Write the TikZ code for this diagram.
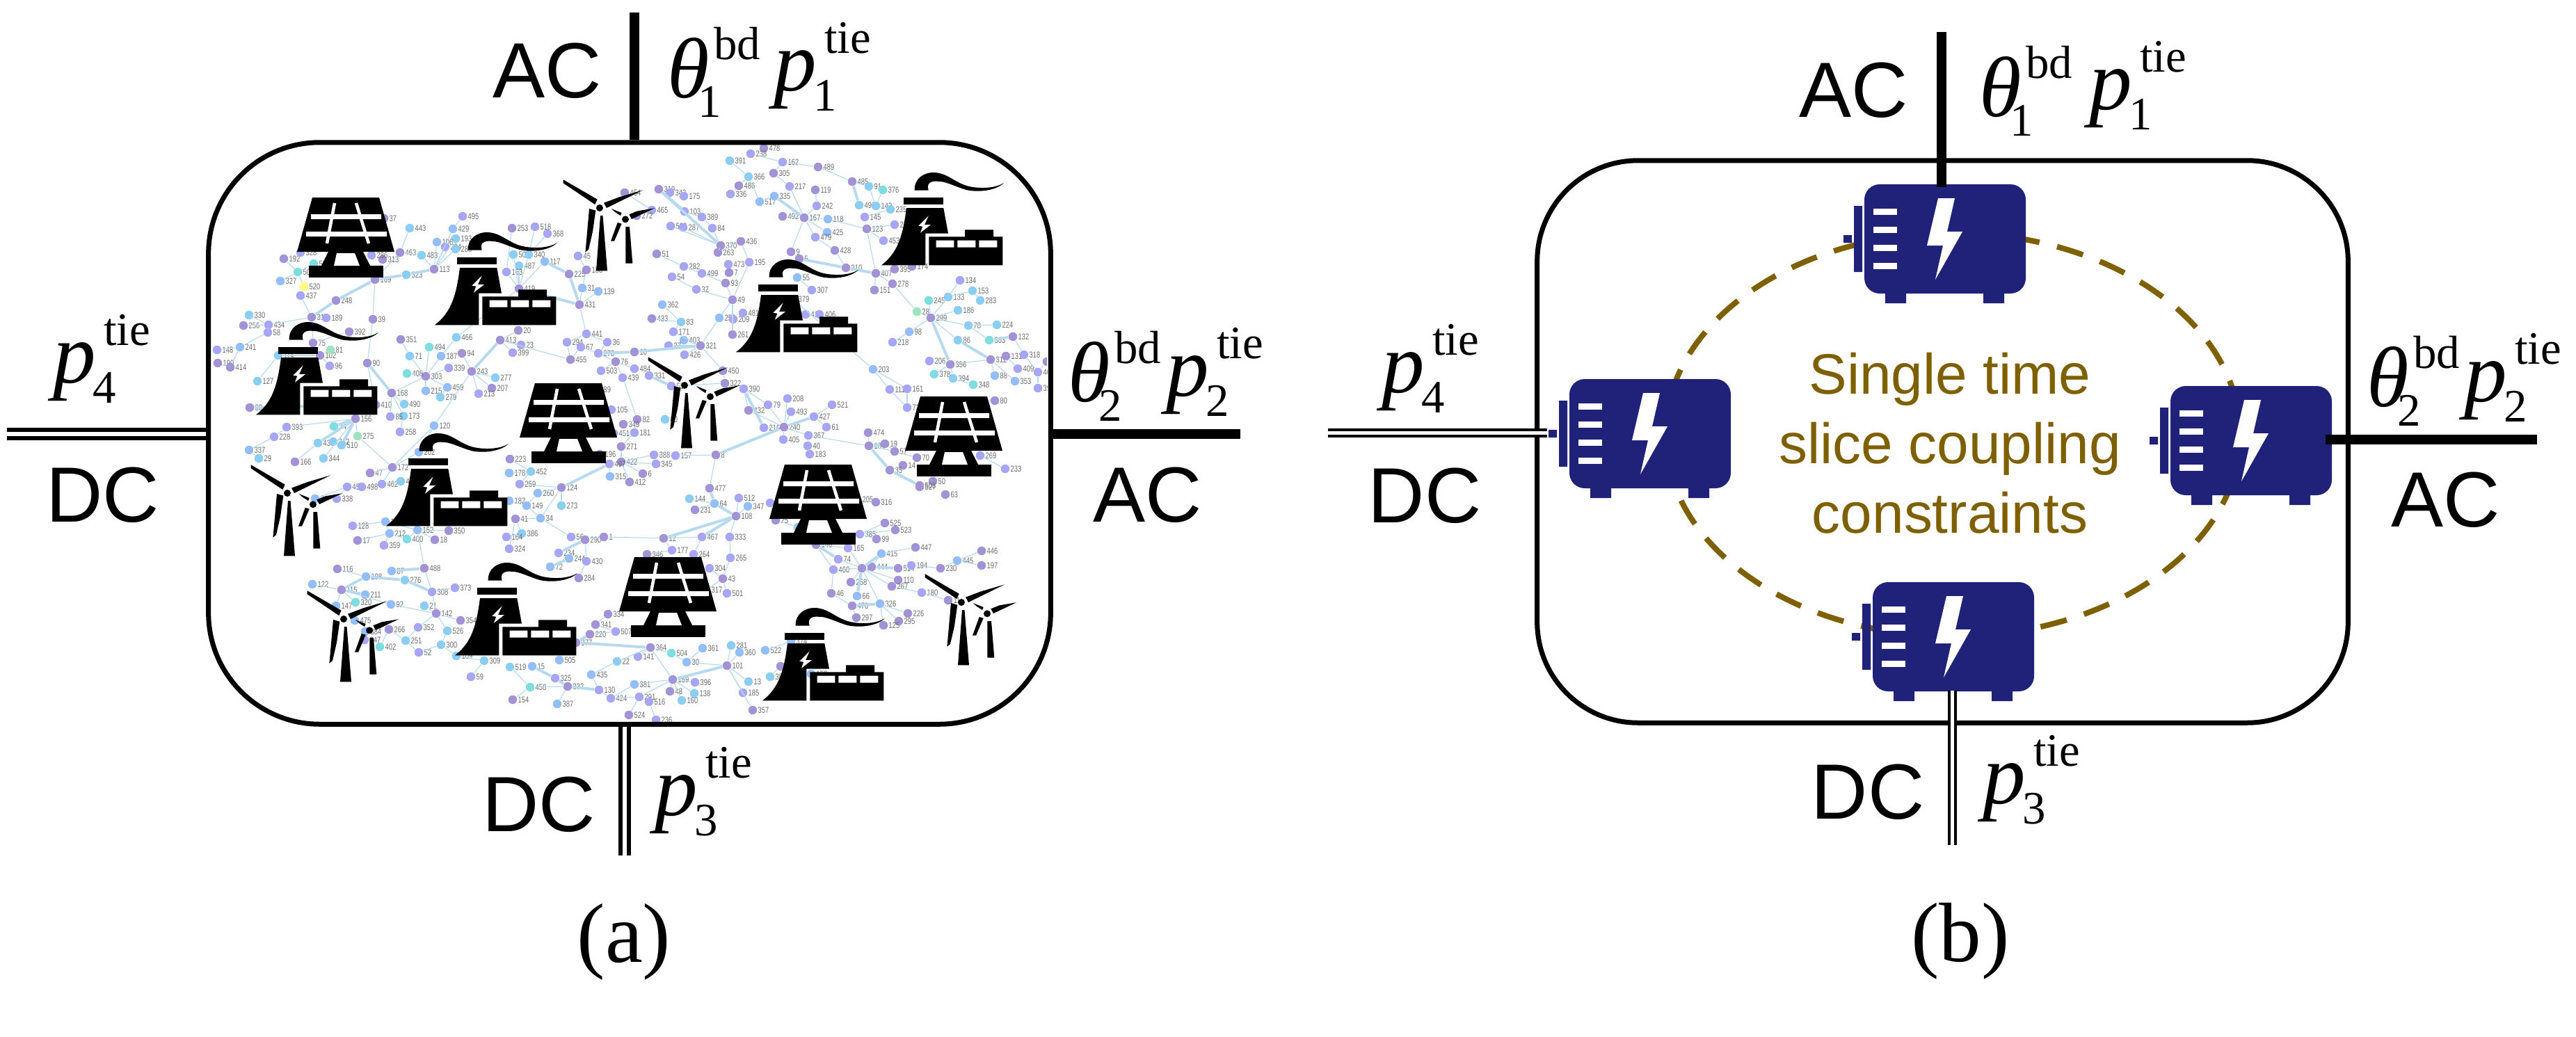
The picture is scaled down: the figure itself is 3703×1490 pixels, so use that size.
\documentclass[tikz,border=0pt]{standalone}
\usepackage{fontspec}
\setmainfont{Liberation Serif}
\setsansfont{Liberation Sans}
\newfontfamily\numfont[FakeStretch=.76]{Liberation Sans}
\usepackage{tikz}
\definecolor{dotP}{HTML}{A193D6}
\definecolor{dotL}{HTML}{A6A6F5}
\definecolor{dotB}{HTML}{94BEFA}
\definecolor{dotS}{HTML}{8CCDF2}
\definecolor{dotC}{HTML}{7FDDE0}
\definecolor{dotM}{HTML}{9DE3BE}
\definecolor{dotY}{HTML}{FFFF80}
\definecolor{linkblue}{HTML}{B7DAEE}
\definecolor{motorblue}{HTML}{1F2278}
\definecolor{coupling}{HTML}{7F6000}
\newcommand{\supfont}{\fontsize{19}{20}\selectfont}
\newcommand{\pTie}[1]{\kern.03cm\textit{p}\rlap{\kern-.05cm\raisebox{-.29cm}{\supfont #1}}\kern.11cm\raisebox{.53cm}{\supfont tie}}
\newcommand{\thetaBd}[1]{\textit{θ}\rlap{\kern-.17cm\raisebox{-.28cm}{\supfont #1}}\kern.06cm\raisebox{.54cm}{\supfont bd}}
\tikzset{
  dot/.style={circle,inner sep=0pt,minimum size=.125cm},
  numtxt/.style={inner sep=0pt,text=black!58,font=\numfont\fontsize{3.5}{4}\selectfont},
  netlink/.style={draw=linkblue,line width=.012cm},
  netthick/.style={draw=linkblue,line width=.04cm},
  region/.style={draw,line width=.07cm},
  acline/.style={draw,line width=.14cm},
  dclineA/.style={line width=.06cm,double,double distance=.055cm},
  dclineB/.style={line width=.045cm,double,double distance=.045cm},
  gridtxt/.style={inner sep=0pt,anchor=base,font=\sffamily\fontsize{32}{33}\selectfont},
  symb/.style={inner sep=0pt,anchor=base west,font=\fontsize{35}{36}\selectfont},
  captxt/.style={inner sep=0pt,anchor=base,font=\fontsize{34.5}{36}\selectfont},
  solar/.pic={
    \fill (-48,0) -- (48,0) -- (70,78) -- (-70,78) -- cycle;
    \fill (-25,78) -- (25,78) -- (35,98) -- (-35,98) -- cycle;
    \fill (-53,98) rectangle (54,115);
    \fill[white] (-13,80) -- (13,80) -- (20,98) -- (-17,98) -- cycle;
    \fill[white] (-50,24) rectangle (51,31) (-57,49) rectangle (59,56);
    \draw[white,line width=.045cm] (-16,8) -- (-27,66) (15,8) -- (33,66);
  },
  factory/.pic={
    \fill (47.7,25.7) .. controls (47,8) and (62,0) .. (74.3,0) .. controls (95,0) and (105,15) .. (126,20) .. controls (145,24) and (165,22) .. (176,15) .. controls (165,26) and (140,29) .. (122,25) .. controls (105,20) and (92,12) .. (79.3,12.7) .. controls (72,12) and (64,15) .. (67.7,25.7) -- cycle;
    \fill (32,35.7) rectangle (89.3,46.3);
    \fill (36,51) -- (89.3,51) -- (96,87.7) -- (63.3,87.7) -- (63.3,133.3) -- (0,133.3) .. controls (24,115) and (31,90) .. cycle;
    \fill (68.3,92.3) -- (120,92.3) -- (120,82.3) -- (161,82.3) -- (161,92.3) -- (174.3,92.3) -- (174.3,133.3) -- (68.3,133.3) -- cycle;
    \fill[white] (78.7,97.7) rectangle (104.3,107.7) (109.3,97.7) rectangle (135.3,107.7) (140.3,97.7) rectangle (166.3,107.7);
    \fill[white] (67.7,62.3) -- (62,75) -- (71,75) -- (56,86.7) -- (59.3,77.7) -- (53.3,76.7) -- cycle;
  },
  turbine/.pic={
    \fill (0,0) circle (5) (37,16.3) circle (5);
    \fill (-52.3,-40.7) -- (-3.3,-12.3) -- (-6.7,-5) -- (-52.3,-35.7) -- cycle;
    \fill (62.3,-25.7) -- (10,0) -- (6,-7.3) -- (28.3,-15.7) -- cycle;
    \fill (-20.7,63.7) -- (-20,57.7) -- (-15,1) -- (-5.7,3.7) -- (-10,34) -- (-16,60) -- cycle;
    \fill (1,11) -- (4.5,11) -- (11,90.3) -- (-5,90.3) -- cycle;
    \fill (16.7,1) -- (31.7,7) -- (30,11) -- (22.3,6) -- cycle;
    \fill (79,.3) -- (46,16) -- (42.3,9.3) -- (55,4.3) -- cycle;
    \fill (16,47.7) -- (21,47.7) -- (31.7,22.7) -- (25.7,21) -- cycle;
    \fill (37.3,27) -- (43,27) -- (47.3,79.7) -- (37.3,79.7) -- cycle;
  },
  motor/.pic={
    \fill[motorblue,rounded corners=.22cm] (0,0) rectangle (232,157);
    \fill[motorblue] (30,155) rectangle (60,171) (171,155) rectangle (201,171);
    \fill[motorblue] (-15,31) rectangle (-3,126) (-30,73) rectangle (-18,84);
    \foreach \s in {35,61,87,113} \fill[white] (13,\s) rectangle (47,\s+9);
    \fill[white] (106,20) -- (130,20) -- (119,68) -- (141,68) -- (102,137) -- (113,88) -- (90,88) -- cycle;
  }
}
\begin{document}
\begin{tikzpicture}[x=.01cm,y=-.01cm]
   \useasboundingbox (0,0) rectangle (3703,1490);
   % panel (a)
   \begin{scope}
   \clip (290,205) rectangle (1505,1040);
   \foreach \x/\y/\lab/\col in {
     665/311/495/L,651/329/429/B,655/343/193/S,628/348/106/B,640/355/204/L,655/358/288/S,589/328/443/S,575/363/463/P,606/367/483/S,624/387/113/P,
     584/395/323/S,539/402/169/P,550/373/313/P,534/367/286/L,408/372/192/P,428/391/500/C,451/379/509/C,403/404/327/B,437/412/520/Y,432/425/437/L,
     483/432/248/P,448/456/310/P,469/457/189/L,536/459/39/P,358/453/330/S,350/468/256/P,386/467/434/L,385/478/58/L,312/503/148/L,345/499/241/B,
     313/522/190/P,331/528/414/P,502/477/392/P,576/488/351/P,589/512/71/S,617/499/494/C,656/485/466/S,634/512/187/B,664/508/94/P,645/529/339/L,
     678/534/243/P,612/541/303/P,585/537/408/C,712/543/277/S,707/558/207/P,612/562/215/B,643/557/459/B,633/571/279/S,688/566/213/L,719/489/413/P,
     745/475/20/P,749/496/23/L,737/507/399/L,581/581/490/S,563/565/168/P,580/598/173/S,561/599/85/L,575/621/258/L,540/582/410/P,511/602/156/P,
     528/522/90/P,412/614/393/L,394/628/228/L,480/613/24/C,514/627/275/M,358/647/337/B,372/659/29/S,457/637/438/S,479/635/342/S,491/640/510/S,
     465/659/344/S,424/664/166/P,624/612/120/B,602/650/202/B,564/672/172/P,532/680/47/P,359/586/68/P,370/548/127/S,474/526/96/L,460/511/102/P,
     475/503/81/M,450/493/75/P,400/511/114/S,552/314/37/P,529/317/285/P,538/347/314/L,432/363/328/L,
     736/328/253/P,769/326/518/L,787/336/368/L,738/366/506/S,760/366/340/S,746/382/487/S,783/376/117/B,728/391/163/L,746/415/419/P,833/438/431/P,
     818/394/225/P,843/388/188/P,831/368/45/L,837/414/31/B,860/419/139/B,
     952/438/362/B,937/458/433/P,979/463/83/S,968/477/171/L,983/489/403/B,1007/497/321/P,961/497/27/L,984/510/426/L,843/480/441/L,873/492/36/L,
     815/492/294/L,835/499/67/L,860/508/270/L,912/506/10/P,820/517/455/P,885/520/76/P,864/533/503/L,912/530/484/L,895/543/439/L,933/540/331/L,
     1039/533/450/P,1042/551/322/P,965/555/53/L,944/365/51/P,983/383/282/L,1009/393/499/L,966/398/54/L,1001/416/32/L,1043/407/93/P,1053/431/49/P,
     1034/457/255/B,1054/459/209/L,1053/481/261/P,1047/380/473/L,1032/363/263/P,1036/353/370/P,1048/392/7/P,937/302/465/L,915/310/272/P,898/277/454/P,
     947/272/319/P,963/277/343/L,983/282/175/L,984/304/103/L,1009/312/389/L,964/325/502/L,982/327/287/L,1024/328/84/L,1049/231/391/S,1062/267/486/P,
     1050/279/336/L,860/560/89/L,879/589/105/L,916/603/82/P,896/610/349/P,912/622/181/L,882/623/451/L,893/642/271/P,940/654/388/L,971/655/157/L,
     943/667/345/L,893/664/422/P,876/667/497/L,877/685/315/B,924/681/6/P,905/693/412/P,862/653/196/P,1029/654/8/P,733/660/223/P,732/680/178/B,
     763/678/452/S,747/696/259/L,956/603/60/S,854/604/250/B,
     499/700/457/L,520/700/498/L,549/696/462/L,576/692/476/S,484/717/338/L,453/717/3/B,507/756/128/L,514/777/17/P,560/767/212/B,552/784/359/L,
     585/775/400/C,600/762/152/B,625/776/18/P,645/763/350/P,554/750/16/B,773/709/260/B,807/701/124/P,732/720/182/B,757/727/149/B,807/727/273/S,
     777/745/34/B,741/746/41/P,750/767/386/S,728/772/164/L,732/789/324/L,821/772/56/L,841/776/290/P,868/772/1/P,954/774/12/P,1009/772/467/L,
     1049/772/333/L,966/791/177/L,997/797/264/L,1050/802/265/L,930/797/346/P,803/795/234/L,818/803/244/B,843/807/430/L,791/815/72/B,832/831/284/P,
     1020/817/304/L,1039/832/43/P,1045/853/501/L,1015/848/317/L,1020/702/477/P,991/717/144/S,1027/724/64/B,999/733/231/P,1062/716/512/L,1075/728/347/B,
     1058/742/108/P,485/818/116/P,526/829/198/B,563/821/87/B,610/817/488/P,582/834/276/S,449/840/122/B,491/848/115/P,525/855/211/B,621/851/308/L,
     654/845/373/L,483/871/147/B,511/866/320/C,562/869/92/B,610/871/21/S,627/882/142/P,662/892/354/P,510/892/475/B,525/908/384/B,559/905/266/P,
     601/902/352/L,643/907/526/S,524/920/247/L,546/930/402/C,583/921/251/S,602/938/52/L,634/927/300/S,656/943/109/S,696/950/309/S,733/959/519/S,
     765/958/15/B,804/949/505/B,677/973/59/L,798/975/325/L,816/987/332/P,762/988/458/C,737/1006/154/P,801/1012/387/B,861/992/130/L,850/970/435/B,
     887/951/22/S,878/1004/424/L,919/1002/291/L,933/1009/516/L,904/1028/524/P,943/1035/236/L,912/984/381/B,967/977/159/P,999/981/396/L,963/994/48/P,
     998/997/138/S,980/1007/160/S,935/931/364/P,965/939/504/C,917/944/141/L,987/952/30/B,1010/932/361/B,1051/928/281/S,1063/938/360/B,1045/957/101/P,
     874/883/334/P,856/898/341/P,885/908/507/L,848/912/220/P,828/924/377/P,1076/980/13/S,1068/996/185/L,1082/1021/357/P,
     1232/718/205/B,1259/722/316/P,1272/752/525/P,1287/762/523/P,1236/768/385/L,1260/775/99/P,1219/788/165/L,1173/783/146/P,1267/796/415/B,1316/787/447/P,
     1411/792/446/P,1376/806/445/B,1411/813/197/P,1205/804/74/L,1198/819/460/L,1239/817/69/P,1253/815/444/P,1291/817/514/P,1310/813/194/L,1352/817/230/P,
     1223/837/268/P,1291/834/110/P,1282/843/267/P,1325/852/180/L,1195/853/46/P,1232/857/66/B,1265/868/326/B,1225/871/470/P,1231/888/297/P,1305/882/226/P,
     1292/893/295/P,1270/899/125/P,1363/863/11/P,1147/758/200/S,1185/759/77/P,1115/748/25/P,1107/723/155/L,1100/935/522/B,1137/922/374/B,1122/958/358/P,
     1107/973/38/S,1166/969/158/B,1322/700/527/P,1359/711/63/P,
     1098/213/478/P,1079/221/238/L,1125/233/162/L,1176/240/489/P,1112/249/305/P,1076/254/366/S,1135/268/217/L,1172/273/119/P,1092/290/517/B,1113/282/335/B,
     1174/296/242/L,1125/311/492/P,1156/313/167/P,1190/315/118/B,1189/334/425/B,1172/341/479/L,1200/360/428/P,1246/329/123/P,1225/261/485/P,1249/268/91/S,
     1269/273/376/C,1235/295/491/S,1259/296/143/S,1280/301/235/S,1243/312/145/L,1270/346/453/L,1286/323/232/L,1065/347/436/P,1077/377/195/L,1137/362/9/P,
     1149/372/5/P,1216/385/210/P,1259/393/407/P,1286/387/395/P,1311/383/174/P,1257/417/151/P,1283/408/278/P,1146/399/55/B,1167/417/307/L,1380/403/134/L,
     1398/418/153/S,1363/427/133/S,1335/432/245/C,1409/432/283/S,1377/446/186/S,1318/448/28/M,1338/457/299/P,1392/468/78/S,1433/467/224/S,1307/477/98/B,
     1283/492/218/L,1377/489/86/S,1422/489/363/C,1456/484/132/P,1424/517/312/P,1446/512/131/P,1472/510/318/L,1336/519/206/L,1366/524/356/P,1343/538/378/C,
     1370/544/394/S,1399/553/348/C,1430/540/88/B,1463/530/409/L,1459/548/353/B,1492/535/469/L,1492/558/398/L,1505/520/461/P,1255/531/203/B,1279/560/111/L,
     1304/559/161/L,1304/586/73/L,1430/576/80/P,1069/559/390/L,1104/582/79/L,1132/573/208/L,1137/592/493/L,1076/590/432/P,1196/582/521/L,1170/599/427/L,
     1188/614/61/L,1098/615/216/L,1127/614/240/P,1126/632/405/L,1162/626/367/L,1161/641/40/L,1164/653/183/L,1248/622/474/P,1249/641/184/P,1272/638/19/P,
     1286/649/57/P,1318/658/70/P,1298/669/14/P,1279/676/35/P,1409/655/269/L,1445/674/233/L,1341/692/50/P,1364/660/219/L,1322/698/508/P,1158/452/411/L,
     1178/452/406/L,1140/430/379/L,1068/450/481/L}
     \node[dot,fill=dot\col,label={[numtxt]0:\lab}] (n\lab) at (\x,\y) {};
   \foreach \i/\j in {
     113/323,323/169,169/248,248/310,431/419,90/168,68/410,156/24,156/510,156/438,243/413,225/117,431/225,319/103,370/319,10/270,10/321,331/53,8/240,240/427,
     124/497,299/356,86/312,363/132,390/216,167/335,210/407,5/210,485/491,69/66,470/326,444/514,415/69,146/74,184/35,35/508,19/184,108/12,108/64,64/477,
     108/467,159/101,332/130,325/332,15/325,488/87,198/115,115/211,276/308,290/234,244/72,364/377,220/377,276/198}
     \path[netthick] (n\i) edge (n\j);
   \foreach \i/\j in {
     113/429,429/495,113/193,113/106,113/204,113/288,463/443,463/483,483/113,463/169,169/313,169/39,39/90,310/437,437/520,520/500,500/192,500/327,500/509,310/434,
     434/330,434/256,434/58,58/241,241/148,241/414,414/190,310/189,310/75,75/392,75/102,102/81,102/96,102/114,114/127,90/410,168/490,168/173,168/85,173/258,
     156/393,393/228,228/337,337/29,156/275,275/172,172/47,172/120,120/202,172/202,156/344,438/166,303/71,71/351,303/408,303/494,303/187,187/466,303/339,303/215,
     303/459,459/279,303/168,243/94,243/277,243/207,243/213,243/120,413/20,413/23,413/399,413/455,455/294,294/441,441/36,36/270,67/455,67/270,76/270,76/503,
     76/484,76/439,439/82,82/349,82/181,181/451,181/271,271/422,422/388,388/157,157/8,422/345,422/497,422/6,422/412,497/315,497/196,124/260,260/149,149/182,
     149/34,34/41,41/386,386/164,41/324,124/273,124/34,452/178,452/223,452/259,259/124,34/56,56/290,290/1,1/12,12/177,177/346,12/467,467/264,108/333,
     333/265,265/43,43/304,43/501,43/317,108/512,108/347,64/144,64/231,290/430,430/284,488/308,308/142,308/373,142/92,92/115,115/122,115/147,115/320,142/21,
     142/354,142/352,352/251,251/52,52/300,300/526,526/142,251/266,266/402,198/116,300/109,109/309,309/59,519/458,458/154,458/332,332/387,130/435,435/22,22/364,
     364/141,364/504,364/159,159/381,381/424,424/130,291/424,291/516,291/524,516/236,159/396,159/48,159/138,159/160,159/291,504/30,30/361,30/101,101/281,101/360,
     101/13,101/185,101/357,334/341,341/507,507/220,488/152,152/350,152/18,152/400,400/212,212/17,212/359,16/128,16/152,16/212,457/338,457/3,457/498,462/172,
     462/476,167/492,167/242,242/119,167/217,217/305,305/162,162/238,162/489,489/485,485/91,91/143,143/376,143/235,235/145,145/123,123/118,118/167,123/453,123/232,
     123/407,167/425,167/479,479/428,428/210,167/9,517/335,517/366,366/391,366/486,486/336,436/263,263/370,370/84,84/389,389/103,287/370,502/370,465/272,465/454,
     51/282,282/499,499/93,54/32,32/49,93/49,49/255,255/321,362/83,433/83,83/171,171/321,403/321,27/321,426/321,49/209,49/261,195/49,203/111,203/161,111/73,
     161/73,407/278,407/151,407/395,278/28,28/299,299/245,299/133,133/134,133/153,153/283,299/186,299/78,78/224,78/363,299/86,299/98,98/218,356/206,356/378,356/394,
     356/312,394/348,312/88,312/131,312/353,131/409,318/132,318/469,469/398,469/461,240/216,240/432,432/390,390/79,79/240,208/240,493/240,405/240,427/521,427/61,
     240/367,367/40,40/183,367/184,184/474,184/57,57/70,19/57,14/35,269/233,165/69,74/69,460/69,460/46,268/69,69/326,326/226,326/295,326/125,46/470,
     297/470,415/447,415/444,525/385,523/385,99/385,514/194,194/230,230/445,445/446,445/197,69/110,69/267,267/180,180/11,146/460,146/165,146/200,200/77,25/200,
     155/25,316/205,522/374,358/38,358/158,8/477,321/450,450/322,322/53,419/506,419/340,419/487,419/163,419/117,431/31,31/188,188/45,188/225,431/139,431/441,
     466/419,253/163,368/340,518/340,195/436,5/9,203/379,55/307}
     \path[netlink] (n\i) edge (n\j);
   \end{scope}
   \node[region,rounded corners=1.6cm,minimum width=12.1cm,minimum height=8.36cm] (boxA) at (905,623) {};
   \foreach \cx/\cy/\nm in {497/284/A,817/551/B,1371/570/C,960/801/D,1176/668/E}
     \pic (solar\nm) at (\cx,\cy) {solar};
   \foreach \cx/\cy/\nm in {625/334/A,368/463/B,555/623/C,654/809/D,1058/373/E,1267/248/F,1096/874/G}
     \pic (factory\nm) at (\cx,\cy) {factory};
   \foreach \cx/\cy/\nm in {862/299/A,984/554/B,413/709/C,494/890/D,1382/866/E}
     \pic (turbine\nm) at (\cx,\cy) {turbine};
   \coordinate (acTopA) at (912,18);
   \coordinate (acRightA) at (1783,624);
   \coordinate (dcLeftA) at (10,624);
   \coordinate (dcBottomA) at (898,1230);
   \path[acline] (acTopA) edge (acTopA |- boxA.north);
   \path[acline] (boxA.east |- acRightA) edge (acRightA);
   \draw[dclineA] (dcLeftA) -- (boxA.west |- dcLeftA);
   \draw[dclineA] (dcBottomA |- boxA.south) -- (dcBottomA);
   \node[gridtxt] (acA) at (787,140) {AC};
   \node[symb] (thetaOneA) at (959,140) {\thetaBd{1}};
   \node[symb] (pOneA) at (1109,130) {\pTie{1}};
   \node[symb] (thetaTwoA) at (1535,577) {\thetaBd{2}};
   \node[symb] (pTwoA) at (1673,569) {\pTie{2}};
   \node[gridtxt] (acRightTxtA) at (1650,750) {AC};
   \node[symb] (pFourA) at (73,550) {\pTie{4}};
   \node[gridtxt] (dcLeftTxtA) at (148,750) {DC};
   \node[symb] (pThreeA) at (938,1172) {\pTie{3}};
   \node[gridtxt] (dcBottomTxtA) at (775,1195) {DC};
   \node[captxt] (capA) at (897,1383) {(a)};
   % panel (b)
   \node[region,rounded corners=1.45cm,minimum width=11.65cm,minimum height=8.08cm] (boxB) at (2792.5,635) {};
   \draw[coupling,line width=.08cm,dash pattern=on .39cm off .26cm] (2807,625) ellipse [x radius=413,y radius=290];
   \pic (motorTop) at (2680,265) {motor};
   \pic (motorLeft) at (2256,545) {motor};
   \pic (motorRight) at (3120,555) {motor};
   \pic (motorBottom) at (2692,837) {motor};
   \coordinate (acTopB) at (2791,46);
   \coordinate (acTopEnd) at (2791,269);
   \coordinate (acRightB) at (3647,632);
   \coordinate (acRightEnd) at (3343,632);
   \coordinate (dcLeftB) at (1909,622.5);
   \coordinate (dcLeftEnd) at (2224,622.5);
   \coordinate (dcBottomB) at (2806.5,1215);
   \coordinate (dcBottomEnd) at (2806.5,993);
   \path[acline] (acTopB) edge (acTopEnd);
   \path[acline] (acRightEnd) edge (acRightB);
   \draw[dclineB] (dcLeftB) -- (dcLeftEnd);
   \draw[dclineB] (dcBottomEnd) -- (dcBottomB);
   \node[align=center,inner sep=0pt,text=coupling,font=\sffamily\fontsize{23.3}{28.45}\selectfont] (couplingTxt) at (2803,637) {Single time\\slice coupling\\constraints};
   \node[gridtxt] (acB) at (2665,168) {AC};
   \node[symb] (thetaOneB) at (2845,167) {\thetaBd{1}};
   \node[symb] (pOneB) at (3000,157) {\pTie{1}};
   \node[symb] (thetaTwoB) at (3402,584) {\thetaBd{2}};
   \node[symb] (pTwoB) at (3539,577) {\pTie{2}};
   \node[gridtxt] (acRightTxtB) at (3516,757) {AC};
   \node[symb] (pFourB) at (1983,564) {\pTie{4}};
   \node[gridtxt] (dcLeftTxtB) at (2048,751) {DC};
   \node[symb] (pThreeB) at (2847,1155) {\pTie{3}};
   \node[gridtxt] (dcBottomTxtB) at (2685,1177) {DC};
   \node[captxt] (capB) at (2818,1382) {(b)};
\end{tikzpicture}
\end{document}
